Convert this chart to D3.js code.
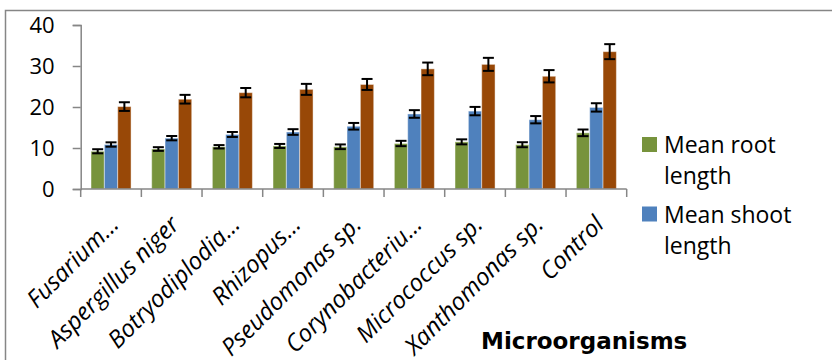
<!DOCTYPE html>
<html>
<head>
<meta charset="utf-8">
<script src="https://cdn.jsdelivr.net/npm/d3@7"></script>
<style>
  html, body { margin: 0; padding: 0; background: #fff; }
  svg { display: block; }
</style>
</head>
<body>
<svg id="chart" width="832" height="360"></svg>
<script>
// ---- data ----
const categories = ["Fusarium…", "Aspergillus niger", "Botryodiplodia…", "Rhizopus…", "Pseudomonas sp.", "Corynobacteriu…", "Micrococcus sp.", "Xanthomonas sp.", "Control"];
const seriesNames = ["Mean root length", "Mean shoot length", "Series 3"];
const rootLength = [9.2, 9.75, 10.3, 10.5, 10.3, 11.1, 11.5, 10.8, 13.7];
const shootLength = [10.85, 12.4, 13.3, 13.9, 15.3, 18.3, 19.0, 16.9, 19.9];
const series3 = [20.1, 21.9, 23.5, 24.3, 25.5, 29.3, 30.4, 27.5, 33.5];
const rootErr = [0.5, 0.45, 0.41, 0.49, 0.57, 0.65, 0.61, 0.61, 0.81];
const shootErr = [0.53, 0.53, 0.61, 0.69, 0.81, 0.93, 1.02, 0.89, 1.02];
const series3Err = [1.06, 1.06, 1.14, 1.34, 1.34, 1.54, 1.59, 1.5, 1.83];
const yTicks = [0, 10, 20, 30, 40];
const legendShown = ["Mean root length", "Mean shoot length"];
const xTitle = "Microorganisms";

const colors = ["#77933C", "#4F81BD", "#984807"];
const values = [rootLength, shootLength, series3];
const errors = [rootErr, shootErr, series3Err];

const svg = d3.select("#chart");

// outer frame (extends beyond the picture on right/bottom)
svg.append("rect").attr("x", 5.5).attr("y", 10.5).attr("width", 900).attr("height", 400)
  .attr("fill", "none").attr("stroke", "#868686").attr("stroke-width", 1.5);

const plotLeft = 80.7, plotRight = 626.7, plotTop = 25, plotBottom = 189;

const y = d3.scaleLinear().domain([0, 40]).range([plotBottom, plotTop]);
const x = d3.scaleBand().domain(categories).range([plotLeft, plotRight])
  .paddingInner(0.34).paddingOuter(0.17);
const xs = d3.scaleBand().domain(d3.range(3)).range([0, x.bandwidth()]).padding(0);

// y axis
const yAxis = svg.append("g").attr("transform", `translate(${plotLeft},0)`)
  .call(d3.axisLeft(y).tickValues(yTicks).tickSize(8).tickPadding(18).tickFormat(d3.format("d")));
yAxis.select(".domain").attr("stroke", "#868686").attr("stroke-width", 1.5);
yAxis.selectAll(".tick line").attr("stroke", "#868686").attr("stroke-width", 1.5);
yAxis.selectAll(".tick text").attr("font-family", "'Open Sans', sans-serif")
  .attr("font-size", 22).attr("fill", "#000");

// bars
const groups = svg.append("g").selectAll("g").data(categories).join("g")
  .attr("transform", d => `translate(${x(d)},0)`);

values.forEach((vals, s) => {
  groups.append("rect")
    .attr("x", xs(s)).attr("width", xs.bandwidth())
    .attr("y", (d, i) => y(vals[i]))
    .attr("height", (d, i) => y(0) - y(vals[i]))
    .attr("fill", colors[s])
    .attr("stroke", "rgba(255,255,255,0.45)").attr("stroke-width", 1);
});

// error bars
values.forEach((vals, s) => {
  const cx = xs(s) + xs.bandwidth() / 2;
  const capW = 11;
  const eg = groups.append("g").attr("stroke", "#000").attr("stroke-width", 2);
  eg.append("line").attr("x1", cx).attr("x2", cx)
    .attr("y1", (d, i) => y(vals[i] + errors[s][i])).attr("y2", (d, i) => y(vals[i] - errors[s][i]));
  eg.append("line").attr("x1", cx - capW / 2).attr("x2", cx + capW / 2)
    .attr("y1", (d, i) => y(vals[i] + errors[s][i])).attr("y2", (d, i) => y(vals[i] + errors[s][i]));
  eg.append("line").attr("x1", cx - capW / 2).attr("x2", cx + capW / 2)
    .attr("y1", (d, i) => y(vals[i] - errors[s][i])).attr("y2", (d, i) => y(vals[i] - errors[s][i]));
});

// x axis
const xg = svg.append("g");
xg.append("line").attr("x1", plotLeft).attr("x2", plotRight).attr("y1", plotBottom).attr("y2", plotBottom)
  .attr("stroke", "#868686").attr("stroke-width", 1.5);
const bounds = d3.range(categories.length + 1).map(i => plotLeft + i * x.step());
xg.selectAll("line.t").data(bounds).join("line").attr("class", "t")
  .attr("x1", d => d).attr("x2", d => d).attr("y1", plotBottom).attr("y2", plotBottom + 8)
  .attr("stroke", "#868686").attr("stroke-width", 1.5);

xg.selectAll("text.cat").data(categories).join("text").attr("class", "cat")
  .attr("transform", d => `translate(${x(d) + x.bandwidth() / 2 + 9},${plotBottom + 37}) rotate(-45)`)
  .attr("text-anchor", "end")
  .attr("font-family", "'Open Sans', sans-serif").attr("font-style", "italic")
  .attr("font-size", 24).attr("fill", "#000")
  .text(d => d);

// x title
svg.append("text").attr("x", 481).attr("y", 349)
  .attr("font-family", "'DejaVu Sans', sans-serif").attr("font-weight", "bold")
  .attr("font-size", 23).attr("fill", "#000").text(xTitle);

// legend
const lg = svg.append("g").selectAll("g").data(legendShown).join("g")
  .attr("transform", (d, i) => `translate(642,${137 + i * 69.5})`);
lg.append("rect").attr("width", 15).attr("height", 15).attr("fill", (d, i) => colors[i]);
lg.each(function(d) {
  const words = d.split(" ");
  const line1 = words.slice(0, 2).join(" ");
  const line2 = words.slice(2).join(" ");
  const t = d3.select(this).append("text")
    .attr("font-family", "'Open Sans', sans-serif").attr("font-size", 23).attr("fill", "#000");
  t.append("tspan").attr("x", 22).attr("y", 16).text(line1);
  t.append("tspan").attr("x", 22).attr("y", 47).text(line2);
});
</script>
</body>
</html>
